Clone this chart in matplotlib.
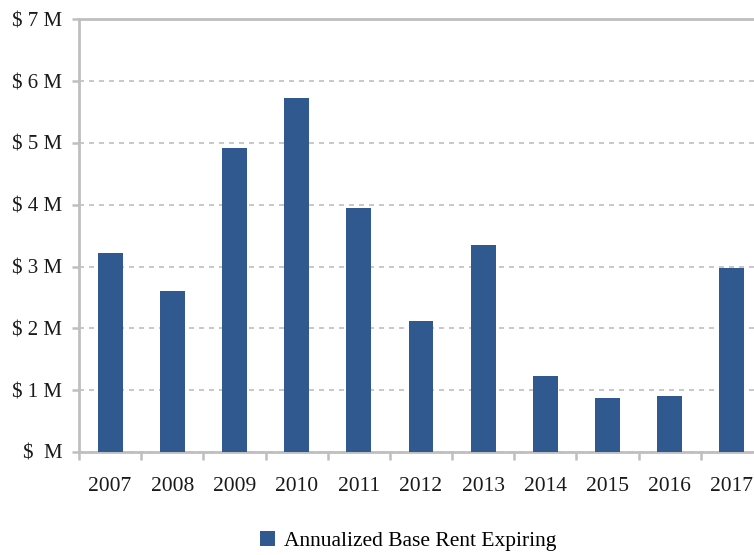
import matplotlib.pyplot as plt
import numpy as np

years = ['2007', '2008', '2009', '2010', '2011', '2012', '2013', '2014', '2015', '2016', '2017']
rent_expiring = [3.22, 2.61, 4.92, 5.73, 3.95, 2.12, 3.35, 1.23, 0.87, 0.91, 2.98]  # $ millions
y_ticks = [0, 1, 2, 3, 4, 5, 6, 7]
y_labels = ['$  M', '$ 1 M', '$ 2 M', '$ 3 M', '$ 4 M', '$ 5 M', '$ 6 M', '$ 7 M']

plt.rcParams['font.family'] = ['Liberation Serif', 'DejaVu Serif']
grey = '#BFBFBF'

fig = plt.figure(figsize=(7.54, 5.55), dpi=100)
ax = fig.add_axes([79 / 754, 1 - 452 / 555, (763 - 79) / 754, (452 - 19.3) / 555])

x = np.arange(len(years))
ax.bar(x, rent_expiring, width=0.4, color='#30598F', label='Annualized Base Rent Expiring', zorder=3)

ax.set_xlim(-0.5, len(years) - 0.5)
ax.set_ylim(0, 7)
ax.set_yticks(y_ticks)
ax.set_yticklabels(y_labels, fontsize=15, color='#1a1a1a')
ax.set_xticks(x)
ax.set_xticklabels(years, fontsize=15.5, color='#1a1a1a')
ax.tick_params(axis='x', length=0, pad=18)
ax.set_xticks(np.arange(-0.5, len(years)), minor=True)
ax.tick_params(axis='x', which='minor', length=6, width=1.8, color=grey, direction='out')
ax.tick_params(axis='y', length=5, width=1.8, color=grey, pad=7)

ax.grid(axis='y', color=grey, linestyle=(0, (3, 3)), linewidth=1.2, zorder=0)
for side in ['left', 'bottom', 'top']:
    ax.spines[side].set_color(grey)
    ax.spines[side].set_linewidth(2)
ax.spines['right'].set_visible(False)

fig.legend(loc='center', bbox_to_anchor=(408 / 754, 1 - 541 / 555), frameon=False,
           fontsize=15.5, handlelength=0.7, handleheight=0.7, handletextpad=0.4)

plt.savefig('out.png', dpi=100)
plt.close()
